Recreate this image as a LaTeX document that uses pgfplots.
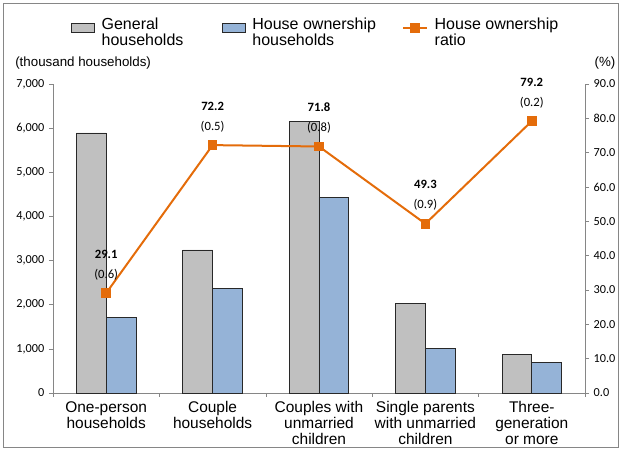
\documentclass[border=0pt]{standalone}
\usepackage{fontspec}
\setmainfont{Liberation Sans}
\newfontfamily\calib{Carlito}
\usepackage{pgfplots}
\usepackage{pgfplotstable}
\pgfplotsset{compat=1.18}

\definecolor{barGray}{RGB}{192,192,192}
\definecolor{barBlue}{RGB}{149,179,215}
\definecolor{lineOrange}{RGB}{228,108,10}
\definecolor{axisGray}{RGB}{134,134,134}
\definecolor{edge}{RGB}{40,40,40}

\pgfplotsset{
  box legend/.style={legend image code/.code={
    \draw[##1] (0pt,0pt) rectangle (17pt,7pt);
    \path (20pt,3.5pt);}},
  mark legend/.style={legend image code/.code={
    \draw[##1, mark repeat=2, mark phase=2]
      plot coordinates {(0pt,3.5pt) (9pt,3.5pt) (18pt,3.5pt)};
    \path (21pt,3.5pt);}},
}

% households (thousand)
\pgfplotstableread{
x general owner
0 5890 1700
1 3240 2360
2 6160 4440
3 2030 1000
4 880  700
}\households

% house ownership ratio (%) and standard error
\pgfplotstableread{
x ratio se
0 29.1 0.6
1 72.2 0.5
2 71.8 0.8
3 49.3 0.9
4 79.2 0.2
}\ratio

\begin{document}
\begin{tikzpicture}
\path[use as bounding box] (-39.75pt,-44.25pt) rectangle (426pt,294.75pt);
\draw[axisGray] (-37.5pt,-40.5pt) rectangle (423.75pt,292.5pt);

\begin{axis}[
  scale only axis, width=399pt, height=231.75pt,
  xmin=-0.5, xmax=4.5, ymin=0, ymax=7000,
  clip=false,
  ybar=0pt, bar width=0.28,
  axis x line*=bottom, axis y line*=left,
  axis line style={axisGray},
  tick align=outside, major tick length=3pt, minor tick length=3pt,
  every tick/.style={axisGray},
  xtick={0,...,4},
  major x tick style={draw=none},
  minor xtick={-0.5,0.5,...,4.5},
  xticklabels={One-person\\households, Couple\\households, Couples with\\unmarried\\children, Single parents\\with unmarried\\children, Three-\\generation\\or more},
  xticklabel style={font=\fontsize{11.6}{12}\selectfont, align=center},
  ytick={0,1000,...,7000},
  /pgf/number format/assume math mode=true,
  /pgf/number format/1000 sep={,},
  yticklabel style={font=\calib\fontsize{9.2}{10}\selectfont},
  legend columns=3,
  legend style={at={(axis description cs:0.034,1.223)}, anchor=north west,
    draw=none, fill=none, inner sep=0pt,
    font=\fontsize{12}{12}\selectfont,
    cells={anchor=west, align=left},
    /tikz/column 2/.append style={column sep=27pt},
    /tikz/column 4/.append style={column sep=17.5pt}},
]
\addplot[fill=barGray, draw=edge, line width=0.7pt, box legend]
  table[x=x, y=general] {\households};
\addlegendentry{General\\households}
\addplot[fill=barBlue, draw=edge, line width=0.7pt, box legend]
  table[x=x, y=owner] {\households};
\addlegendentry{House ownership\\households}
\addlegendimage{sharp plot, lineOrange, line width=1.5pt, mark=square*, mark size=2.9pt, mark legend}
\addlegendentry{House ownership\\ratio}

\node[anchor=west, font=\fontsize{10}{12}\selectfont, inner sep=0pt]
  at (axis description cs:-0.0714,1.068) {(thousand households)};
\node[font=\fontsize{10}{12}\selectfont, inner sep=0pt]
  at (axis description cs:1.0376,1.068) {(\%)};
\end{axis}

\begin{axis}[
  scale only axis, width=399pt, height=231.75pt,
  xmin=-0.5, xmax=4.5, ymin=0, ymax=90,
  clip=false,
  axis x line=none, axis y line*=right,
  axis line style={axisGray},
  tick align=outside, major tick length=3pt,
  every tick/.style={axisGray},
  ytick={0,10,...,90},
  /pgf/number format/assume math mode=true,
  yticklabel={\pgfmathprintnumber[fixed,fixed zerofill,precision=1]{\tick}},
  yticklabel style={font=\calib\fontsize{9.2}{10}\selectfont},
]
\addplot[lineOrange, line width=1.5pt, mark=square*, mark size=2.9pt,
  point meta=explicit symbolic,
  nodes near coords={\textbf{\pgfmathprintnumber[fixed,fixed zerofill,precision=1]{\pgfkeysvalueof{/data point/y}}}\\(\pgfplotspointmeta)},
  nodes near coords style={text=black, font=\calib\fontsize{9.5}{15}\selectfont,
    align=center, anchor=south, inner sep=0pt, yshift=9pt}]
  table[x=x, y=ratio, meta=se] {\ratio};
\end{axis}
\end{tikzpicture}
\end{document}
